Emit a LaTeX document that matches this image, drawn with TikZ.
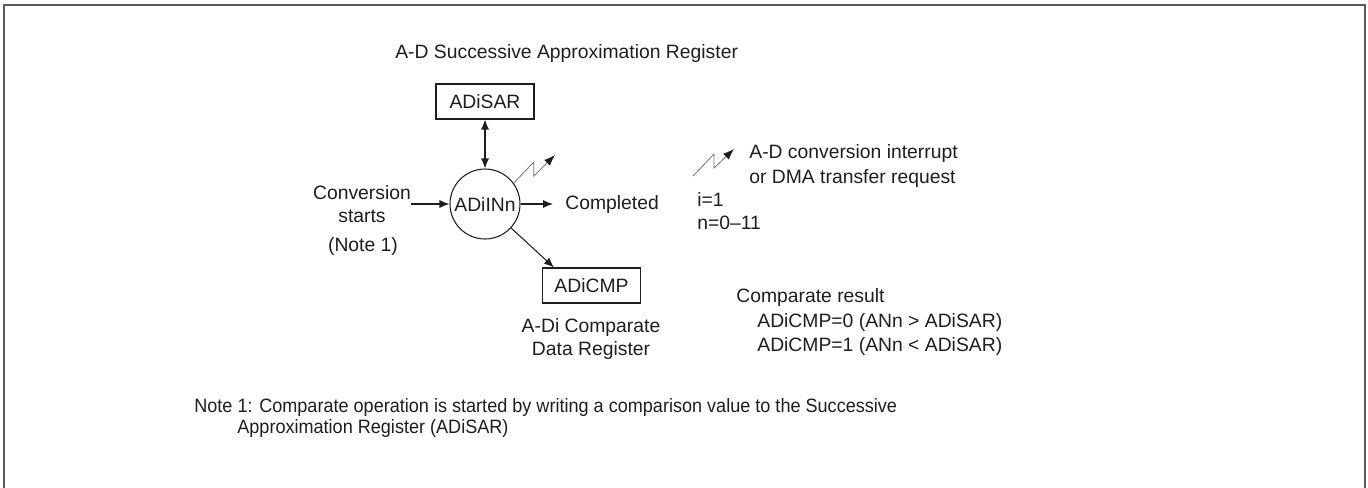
\documentclass[tikz,border=0pt]{standalone}
\usepackage{fontspec}
\setmainfont{Liberation Sans}
\newfontfamily\notefont[FakeStretch=0.935]{Liberation Sans}
\usepackage{xcolor}
\usetikzlibrary{arrows.meta,positioning}
\definecolor{framegray}{HTML}{5A5A5A}
\definecolor{inkdark}{HTML}{1E1E1E}
\definecolor{irqgray}{HTML}{707070}

\begin{document}
\begin{tikzpicture}[
  x=0.02cm,
  y=-0.02cm,
  every node/.style={
    inner sep=0pt,
    text=inkdark,
    font=\fontsize{11}{12}\selectfont
  },
  regbox/.style={
    rectangle,
    draw=inkdark,
    line width=0.6pt,
    minimum width=1.96cm,
    minimum height=0.70cm
  },
  unit/.style={
    circle,
    draw=inkdark,
    line width=0.6pt,
    minimum size=1.40cm
  },
  flow/.style={
    -{Latex[length=2mm,width=1.6mm]},
    draw=inkdark,
    line width=0.6pt
  },
  bothflow/.style={
    {Latex[length=2mm,width=1.6mm]}-{Latex[length=2mm,width=1.6mm]},
    draw=inkdark,
    line width=0.6pt
  },
  irq/.style={
    -{Latex[length=2.2mm,width=1.6mm,color=inkdark]},
    draw=irqgray,
    line width=0.45pt
  },
  caption/.style={align=center},
  lefttext/.style={anchor=west, align=left},
  notetext/.style={anchor=west, align=left, font=\notefont\fontsize{11}{12}\selectfont}
]

\useasboundingbox (0,0) rectangle (1368,487);
\draw[framegray, line width=1.1pt] (4,495) -- (4,5) -- (1365,5) -- (1365,495);

% Registers and the converter
\node[lefttext] (sartitle) at (395,54) {A-D Successive Approximation Register};
\node[regbox]   (sar) at (485,101.5) {ADiSAR};
\node[unit]     (inn) at (485,204) {ADiINn};
\node[regbox]   (cmp) at (591.5,285.5) {ADiCMP};
\node[caption]  (cmplbl) at (591,339) {A-Di Comparate\\[1.5pt]Data Register};

% Inputs and outputs
\node[caption]  (conv)  at (362,204) {Conversion\\[1.5pt]starts};
\node[caption]  (note)  at (363,246) {(Note 1)};
\node[lefttext] (done)  at (565,204) {Completed};
\coordinate (irqtip) at (555,155);

% Legend
\coordinate (lgstart) at (693,176);
\node[lefttext] (irqlbl) at (749,166) {A-D conversion interrupt\\[2pt]or DMA transfer request};
\node[lefttext] (ilbl)   at (697,199) {i=1};
\node[lefttext] (nlbl)   at (697,223) {n=0--11};
\node[lefttext] (reslbl) at (736,297) {Comparate result};
\node[lefttext] (res0)   at (757,322) {ADiCMP=0 (ANn > ADiSAR)};
\node[lefttext] (res1)   at (757,346) {ADiCMP=1 (ANn < ADiSAR)};

% Footnote
\node[notetext] (fn1) at (194,407) {Note 1: Comparate operation is started by writing a comparison value to the Successive};
\node[notetext] (fn2) at (237,428) {Approximation Register (ADiSAR)};

% Connectors
\draw[bothflow] (sar) -- (inn);
\draw[flow] (conv) -- (inn);
\draw[flow, shorten >=0.24cm] (inn) -- (done);
\draw[flow] (inn) -- ([xshift=0.24cm]cmp.north west);
\draw[irq] (inn.36) -- ++(20,-21) -- ++(0,14) -- (irqtip);
\draw[irq] (lgstart) -- ++(21,-22) -- ++(0,14) -- ++(20,-19);

\end{tikzpicture}
\end{document}
